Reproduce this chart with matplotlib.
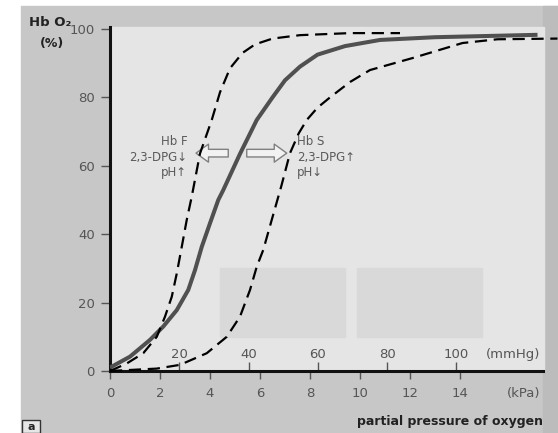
import matplotlib.pyplot as plt
from matplotlib.patches import Rectangle

# oxygen dissociation curves (kPa, % saturation)
hb_a_kpa = [0, 0.8, 1.6, 2.13, 2.67, 3.13, 3.4, 3.67, 4.0, 4.33, 4.53, 5.2, 5.87, 6.5, 7.0, 7.6, 8.3, 9.4, 10.8, 13.0, 17.1]
hb_a_sat = [1.0, 4.2, 9.1, 13.0, 17.8, 23.7, 29.5, 36.3, 43.2, 50.0, 52.9, 63.5, 73.4, 80.0, 85.0, 89.0, 92.5, 95.0, 96.8, 97.6, 98.3]

hb_f_kpa = [0, 0.67, 1.33, 1.87, 2.2, 2.47, 2.67, 2.87, 3.07, 3.27, 3.6, 4.07, 4.4, 4.8, 5.3, 5.8, 6.5, 7.6, 9.6, 11.6]
hb_f_sat = [0, 2.2, 5.2, 10.0, 15.9, 21.7, 28.5, 36.3, 44.2, 51.0, 63.6, 73.4, 81.5, 88.5, 93.0, 95.5, 97.2, 98.2, 98.8, 98.8]

hb_s_kpa = [0, 1.87, 2.8, 3.87, 4.67, 5.2, 5.6, 5.87, 6.13, 6.47, 6.85, 7.2, 7.55, 7.87, 8.3, 8.8, 9.6, 10.4, 12.1, 14.1, 15.5, 17.9]
hb_s_sat = [0, 0.7, 1.8, 5.2, 10.0, 15.9, 23.7, 30.5, 35.4, 44.2, 54.0, 63.7, 69.5, 73.4, 77.0, 80.0, 84.5, 88.0, 91.5, 95.9, 97.0, 97.2]

kpa_ticks = [0, 2, 4, 6, 8, 10, 12, 14]
sat_ticks = [0, 20, 40, 60, 80, 100]
mmhg_ticks = [20, 40, 60, 80, 100]
MMHG_TO_KPA = 0.1385  # scale as drawn in the source figure

left_labels = ["Hb F", "2,3-DPG\u2193", "pH\u2191"]
right_labels = ["Hb S", "2,3-DPG\u2191", "pH\u2193"]

W, H = 558, 433
fig = plt.figure(figsize=(W / 100, H / 100), dpi=100)
fig.patch.set_facecolor("white")

# scanned page background
fig.patches.append(Rectangle((21 / W, 0), 1 - 21 / W, (H - 6) / H, transform=fig.transFigure,
                             color="#c7c7c7", zorder=-3))
fig.patches.append(Rectangle((543 / W, 0), 15 / W, (H - 6) / H, transform=fig.transFigure,
                             color="#bcbcbc", zorder=-2))
# little "a" box bottom left
fig.patches.append(Rectangle((22 / W, 0), 18 / W, 13 / H, transform=fig.transFigure,
                             facecolor="#e6e6e6", edgecolor="#333", lw=1, zorder=-1))
fig.text(31 / W, 6 / H, "a", ha="center", va="center", fontsize=8, fontweight="bold", color="#222")

ax = fig.add_axes([110 / W, 62 / H, (W - 110) / W, (371 - 6) / H])
ax.set_xlim(0, (W - 110) / 25)
ax.set_ylim(0, 365 / 3.42)
ax.patch.set_alpha(0)

ax.add_patch(Rectangle((0.05, 0), 17.32, 100.6, color="#e5e5e5", zorder=0))
for x0 in [4.4, 9.88]:
    ax.add_patch(Rectangle((x0, 9.9), 5.0, 20.2, color="#d9d9d9", zorder=0.5))

ax.plot(hb_a_kpa, hb_a_sat, color="#505050", lw=2.9, zorder=3, solid_capstyle="butt", solid_joinstyle="round")
ax.plot(hb_f_kpa, hb_f_sat, color="black", lw=1.6, ls=(0, (5.5, 3)), zorder=4)
ax.plot(hb_s_kpa, hb_s_sat, color="black", lw=1.6, ls=(0, (5.5, 3)), zorder=4, clip_on=False)

arrow = dict(arrowstyle="simple,head_width=1.3,head_length=0.9,tail_width=0.55",
             fc="#f2f2f2", ec="#808080", lw=1, shrinkA=0, shrinkB=0)
ax.annotate("", xy=(3.44, 63.7), xytext=(4.73, 63.7), arrowprops=arrow, zorder=2)
ax.annotate("", xy=(7.07, 63.7), xytext=(5.47, 63.7), arrowprops=arrow, zorder=2)

rows = [67.0, 62.5, 58.0]
for txt, y in zip(left_labels, rows):
    ax.text(3.09, y, txt, ha="right", va="center", fontsize=8.5, color="#5a5a5a")
for txt, y in zip(right_labels, rows):
    ax.text(7.47, y, txt, ha="left", va="center", fontsize=8.5, color="#5a5a5a")

for s in ["top", "right"]:
    ax.spines[s].set_visible(False)
ax.spines["left"].set_bounds(0, 100.6)
ax.spines["bottom"].set_bounds(0, 17.32)
ax.spines["left"].set_linewidth(2.2)
ax.spines["bottom"].set_linewidth(2.2)
ax.spines["left"].set_color("#111")
ax.spines["bottom"].set_color("#111")

ax.set_xticks(kpa_ticks)
ax.set_yticks(sat_ticks)
ax.tick_params(axis="y", length=6.5, width=1, pad=4.5, colors="#555", labelsize=9.5)
ax.tick_params(axis="x", length=5.8, width=1, pad=5.5, colors="#555", labelsize=9.5)

sec = ax.secondary_xaxis(0, functions=(lambda k: k / MMHG_TO_KPA, lambda m: m * MMHG_TO_KPA))
sec.set_xticks(mmhg_ticks)
sec.spines["bottom"].set_visible(False)
sec.tick_params(axis="x", direction="in", length=6.5, width=1, pad=-16.5, colors="#555", labelsize=9.5)

ax.annotate("(mmHg)", xy=(16.12, 0), xytext=(0, 12), textcoords="offset points",
            ha="center", va="center", fontsize=9.5, color="#555")
ax.annotate("(kPa)", xy=(16.56, 0), xytext=(0, -16), textcoords="offset points",
            ha="center", va="center", fontsize=9.5, color="#555")

fig.text(50 / W, 1 - 23 / H, "Hb O\u2082", ha="center", va="center", fontsize=9.5, fontweight="bold", color="#222")
fig.text(52 / W, 1 - 43 / H, "(%)", ha="center", va="center", fontsize=9, fontweight="bold", color="#222")
fig.text(543 / W, 1 - 421 / H, "partial pressure of oxygen", ha="right", va="center",
         fontsize=9, fontweight="bold", color="#222")

fig.savefig("out.png", dpi=100)
